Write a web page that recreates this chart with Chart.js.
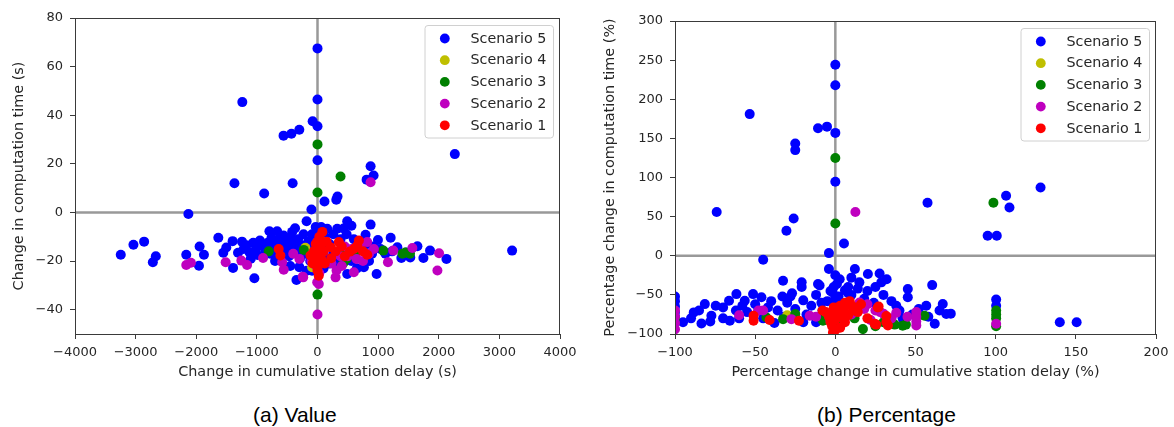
<!DOCTYPE html>
<html>
<head>
<meta charset="utf-8">
<script src="https://cdn.jsdelivr.net/npm/chart.js@4.4.1/dist/chart.umd.min.js"></script>
<style>
  html, body { margin: 0; padding: 0; background: #fff; }
  body { width: 1174px; height: 427px; position: relative; overflow: hidden; }
  .panel { position: absolute; top: 0; width: 587px; height: 395px; }
  .caption { position: absolute; top: 404px; font: 21px "Liberation Sans", Arial, sans-serif;
             line-height: 21px; color: #000; white-space: nowrap; }
</style>
</head>
<body>
<div class="panel" style="left:0"><canvas id="cv-value" width="587" height="395"></canvas></div>
<div class="panel" style="left:587px"><canvas id="cv-pct" width="587" height="395"></canvas></div>
<div class="caption" style="left:253px">(a) Value</div>
<div class="caption" style="left:817px">(b) Percentage</div>

<script>
// ---- Series labels and colours ----
const scenarioLabels = ['Scenario 1', 'Scenario 2', 'Scenario 3', 'Scenario 4', 'Scenario 5'];
const scenarioColors = ['#ff0000', '#bf00bf', '#008000', '#bfbf00', '#0000ff'];

// ---- (a) Value: [change in cumulative station delay (s), change in computation time (s)] ----
const valueS5 = [
  [0,67.5],[0,46.5],[-1240,45.4],[-80,37.5],[0,35.5],[-300,34],[-430,32.4],[-560,31.6],[0,21.5],
  [876,19],[925,15.2],[810,13.5],[2265,24],[-1370,12],[-880,7.8],[-410,12],[115,4.5],[310,5.2],
  [330,6.6],[-2130,-0.6],[-100,1.2],[3210,-15.7],[-180,-3.6],[490,-3.6],[876,-5],
  [-3245,-17.4],[-3036,-13.3],[-2860,-12],[-2667,-18],[-2716,-20.5],[-2165,-17.4],[-1945,-14],
  [-1873,-17.4],[-1955,-21.9],[-1636,-10.4],[-1554,-16.6],[-1504,-14.4],[-1400,-11.8],[-1311,-16.6],
  [-1393,-22.8],[-1245,-12],[-1218,-15],[-1170,-13.5],[-1120,-16.5],[-1060,-12.5],[-1010,-14.5],
  [-990,-17.5],[-950,-11.5],[-900,-14],[-860,-16.5],[-820,-12.5],[-793,-7.7],[-666,-7.7],[-760,-10.5],
  [-720,-13.5],[-690,-17],[-640,-11],[-600,-13.5],[-560,-9.5],[-530,-15],[-500,-12],[-470,-18],
  [-440,-10.5],[-418,-8],[-400,-14],[-370,-6.5],[-350,-16.5],[-320,-11],[-290,-19],[-260,-13.5],
  [-230,-9],[-200,-17],[-150,-12],[-120,-20],[-90,-9],[-60,-15],[-30,-6],[-1041,-27.1],[-347,-27.8],
  [-700,-20],[-620,-19],[-450,-22],[-300,-22.5],[-180,-24],[-90,-24],[-780,-17],[-1100,-19],
  [0,-8],[0,-12],[20,-16],[40,-21],[60,-6],[160,-6.7],[325,-6.7],[430,-6.6],[560,-5.5],[793,-9.2],
  [997,-11.3],[1207,-10.4],[1317,-14.3],[1648,-13.9],[1856,-15.7],[2127,-19.1],[1747,-18.7],
  [1383,-18.7],[975,-25.3],[490,-25.3],[765,-22.5],[120,-10],[200,-13],[260,-9],[380,-11],[480,-9],
  [600,-11],[700,-12.5],[820,-13],[900,-17],[1040,-15],[1120,-17],[1230,-16],[1460,-16.5],
  [1530,-18.5],[150,-19],[260,-17],[330,-21],[420,-18],[560,-20],[650,-23],[850,-20],[920,-14],
  [100,-23],[80,-14],[200,-21]
];
const valueS4 = [[-88,-22.5],[-200,-14.5],[40,-11],[460,-18]];
const valueS3 = [
  [0,28],[380,14.8],[0,8.2],[-805,-16],[-226,-15.4],[0,-33.8],[1086,-15.7],[1400,-17],[1526,-17],
  [1450,-16.5],[425,-20.9],[380,-17.7],[0,-20],[450,-16],[480,-19],[100,-14],[-50,-16],[620,-17]
];
const valueS2 = [
  [876,12.4],[-2165,-21.6],[-2088,-20.7],[-1515,-20.5],[-1256,-19.8],[-1162,-21.6],[-898,-18.7],
  [-583,-20.5],[-557,-23.6],[-298,-19.1],[-243,-26.4],[-5,-28.7],[0,-42],[2005,-16.8],[1978,-23.9],
  [1565,-14.6],[1250,-15.7],[1162,-20.5],[930,-15],[820,-12.2],[645,-19.1],[600,-24.6],[298,-26.7],
  [314,-23.9],[-236,-26.7],[22,-29.4],[-50,-18],[-20,-22],[100,-16],[450,-14],[500,-18],[700,-14],
  [750,-20],[380,-18],[230,-21],[30,-25],[-100,-20],[-400,-17],[850,-17],[560,-15],[400,-22]
];
const valueS1 = [
  [-640,-15],[-612,-17.7],[-116,-17.7],[656,-13.6],[820,-17.4],[534,-16.1],[352,-12.2],[215,-14.3],
  [226,-18.8],[683,-11.5],[0,-12],[0,-15],[0,-18],[0,-21],[0,-24],[30,-10],[50,-14],[-30,-13],
  [-60,-16],[-40,-20],[60,-19],[100,-16],[120,-21],[150,-12],[300,-16],[400,-14],[450,-18],
  [600,-15],[750,-16],[20,-26],[80,-8],[-80,-21],[10,-22],[40,-17]
];

// ---- (b) Percentage: [change in cumulative station delay (%), change in computation time (%)] ----
const pctS5 = [
  [0,244],[0,218],[-53.4,181],[-10.8,163],[-5.2,165],[0,157],[-25,143.5],[-25,135],[0,94.6],
  [-74,56],[-26,47.7],[-30.5,32],[5.4,15.7],[-4,3.4],[-45,-5],[-4,-17],[12.2,-17],[128,87.3],
  [106.5,76.7],[108.6,61.7],[57.5,67.7],[95,25.6],[100.7,25.6],[100.3,-56],[100.3,-64],[140,-85],
  [150.5,-85],
  [-100,-52],[-100,-58],[-100,-65],[-100,-72],[-100,-78],[-95,-85],[-88.3,-72.4],[-83.5,-86.5],
  [-81.4,-61.8],[-77.3,-76.7],[-74.6,-64],[-70,-66],[-66.3,-57.5],[-61.7,-49],[-56.5,-57.5],
  [-51.3,-49],[-46.1,-53],[-65.8,-83],[-60,-80],[-55,-72],[-50,-62],[-40,-58],[-36,-70],[-30,-60],
  [-28,-52],[-25,-68],[-20,-57],[-18,-75],[-15,-64],[-12,-50],[-8,-70],[-5,-58],[-3,-45],[-1,-40],
  [1,-36],[2,-52],[4,-62],[6,-44],[8,-40],[10,-50],[-70,-80],[-78,-84],[-90,-80],[-85,-70],
  [-62,-70],[-45,-80],[-38,-86],[-32,-78],[-12,-85],[-6,-80],[-58,-64],[-48,-70],[-42,-66],
  [-33,-52],[-32.6,-32],[-21,-34],[-21,-40],[-10.8,-36],[-8.7,-60],[-27,-48],[-20,-85],[-9.8,-38],
  [-1.7,-47],[2.7,-30],[20.3,-23.4],[27.6,-22.6],[15,-34],[28.7,-34],[45.2,-42.6],[45.2,-53],
  [60.4,-37.5],[38,-64],[56.7,-64],[67,-61.7],[69.2,-74.5],[62,-87],[20,-45],[25,-40],[30,-50],
  [35,-58],[40,-70],[48,-75],[52,-68],[32,-30],[10,-28],[18,-55],[24,-60],[42,-80],[58,-78],
  [65,-70],[72,-74],[8,-48],[14,-42],[0,-25],[0,-55],[0,-65]
];
const pctS4 = [[-5,-80],[3,-90],[-30,-76]];
const pctS3 = [
  [0,125],[0,41.3],[98.6,67.7],[-7.7,-74.5],[17.2,-93.7],[42,-89.5],[37,-88],[55.6,-76.7],
  [100.3,-70],[100.3,-75],[100.3,-80],[100.3,-90],[-43,-79],[-32.6,-81],[-25,-74.5],[-7.7,-83],
  [-100,-80],[12,-80],[25,-90],[30,-85],[44,-88],[3,-88]
];
const pctS2 = [
  [12.5,56],[15.1,-59.7],[20,-62],[25,-70],[28,-72],[30,-74],[38,-73],[50.5,-72],[50.5,-78],
  [50.5,-84],[50.5,-89],[5.8,-81],[100.3,-87],[-45,-70],[-48,-70],[-27.4,-81],[-16,-76.7],
  [-12,-78],[-100,-70],[-100,-78],[-100,-86],[-100,-94],[10,-75],[18,-68],[22,-82],[35,-80],
  [45,-78],[-3,-83],[-60,-76]
];
const pctS1 = [
  [7.9,-61.7],[10,-64],[5,-68],[2,-72],[-2,-75],[0,-82],[-1.5,-98],[4,-78],[12,-66],[26.5,-66],
  [27,-65],[24.5,-87],[25.5,-88],[31.8,-77],[31.8,-85],[32.8,-89],[-51,-76.7],[-51,-83],[-41,-82],
  [-22.7,-83],[-4,-78],[-2,-90],[0,-95],[8,-76],[14,-72],[20,-80],[6,-85],[-8,-70],[-3,-85],[3,-92],
  [9,-58],[6,-60],[11,-70],[-1,-66],[3,-64],[-6,-72],[16,-62]
];

// ---- Tick values ----
const valueXTicks = [-4000, -3000, -2000, -1000, 0, 1000, 2000, 3000, 4000];
const valueYTicks = [-40, -20, 0, 20, 40, 60, 80];
const pctXTicks = [-100, -50, 0, 50, 100, 150, 200];
const pctYTicks = [-100, -50, 0, 50, 100, 150, 200, 250, 300];

// ---- Styling ----
const TEXT = '#262626';
const FRAME = '#3a3a3a';
const ZERO = 'rgba(128,128,128,0.8)';
const FAMILY = '"DejaVu Sans", Verdana, sans-serif';

const fmt = v => String(v).replace('-', '\u2212');

// Zero reference lines under the points, frame and inset legend on top.
const framePlugin = {
  id: 'frameAndLegend',
  beforeDatasetsDraw(chart) {
    const { ctx, chartArea: a, scales: { x, y } } = chart;
    ctx.save();
    ctx.beginPath();
    ctx.rect(a.left, a.top, a.right - a.left, a.bottom - a.top);
    ctx.clip();
    ctx.strokeStyle = ZERO;
    ctx.lineWidth = 2.5;
    const x0 = x.getPixelForValue(0), y0 = y.getPixelForValue(0);
    ctx.beginPath();
    ctx.moveTo(a.left, y0); ctx.lineTo(a.right, y0);
    ctx.moveTo(x0, a.top); ctx.lineTo(x0, a.bottom);
    ctx.stroke();
    ctx.restore();
  },
  afterDatasetsDraw(chart) {
    const { ctx, chartArea: a } = chart;
    ctx.save();
    ctx.strokeStyle = FRAME;
    ctx.lineWidth = 1;
    ctx.strokeRect(Math.round(a.left) + 0.5, Math.round(a.top) + 0.5,
                   Math.round(a.right - a.left) - 1, Math.round(a.bottom - a.top));

    // legend box
    const w = 128.5, h = 112.5;
    const bx = a.right - 7 - w, by = a.top + 7;
    ctx.fillStyle = 'rgba(255,255,255,0.8)';
    ctx.strokeStyle = '#d0d0d0';
    ctx.lineWidth = 1;
    ctx.beginPath();
    ctx.roundRect(bx + 0.5, by + 0.5, w, h, 3);
    ctx.fill();
    ctx.stroke();
    ctx.font = '14.3px ' + FAMILY;
    ctx.textBaseline = 'middle';
    ctx.textAlign = 'left';
    const sets = chart.data.datasets.slice().reverse();
    sets.forEach((ds, i) => {
      const cy = by + 13.5 + i * 21.7;
      ctx.fillStyle = ds.backgroundColor;
      ctx.beginPath();
      ctx.arc(bx + 20.3, cy, 4.9, 0, Math.PI * 2);
      ctx.fill();
      ctx.fillStyle = TEXT;
      ctx.fillText(ds.label, bx + 46, cy + 0.5);
    });
    ctx.restore();
  }
};

function makeChart(id, series, cfg) {
  const datasets = series.map((pts, i) => ({
    label: scenarioLabels[i],
    data: pts.map(([x, y]) => ({ x, y })),
    backgroundColor: scenarioColors[i],
    borderWidth: 0,
    pointRadius: 5,
    pointHoverRadius: 5,
    clip: 0
  }));
  return new Chart(document.getElementById(id), {
    type: 'scatter',
    data: { datasets },
    plugins: [framePlugin],
    options: {
      responsive: false,
      animation: false,
      events: [],
      layout: { padding: { top: cfg.top, right: cfg.right, left: 0, bottom: 0 } },
      plugins: { legend: { display: false }, tooltip: { enabled: false } },
      scales: {
        x: {
          type: 'linear', min: cfg.xMin, max: cfg.xMax,
          afterBuildTicks: s => { s.ticks = cfg.xTicks.map(v => ({ value: v })); },
          afterFit: s => { s.height = 61; s.paddingLeft = 0; s.paddingRight = 0; },
          grid: { display: true, drawOnChartArea: false, drawTicks: true, tickLength: 5,
                  tickColor: FRAME, tickWidth: 1 },
          border: { display: false },
          ticks: { color: TEXT, font: { family: FAMILY, size: 13 }, padding: 6,
                   maxRotation: 0, autoSkip: false, callback: v => fmt(v) },
          title: { display: true, text: cfg.xTitle, color: TEXT,
                   font: { family: FAMILY, size: 14.4 }, padding: { top: 0, bottom: 14.4 } }
        },
        y: {
          type: 'linear', min: cfg.yMin, max: cfg.yMax,
          afterBuildTicks: s => { s.ticks = cfg.yTicks.map(v => ({ value: v })); },
          afterFit: s => { s.width = cfg.yWidth; s.paddingTop = 0; s.paddingBottom = 0; },
          grid: { display: true, drawOnChartArea: false, drawTicks: true, tickLength: 5,
                  tickColor: FRAME, tickWidth: 1 },
          border: { display: false },
          ticks: { color: TEXT, font: { family: FAMILY, size: 13 }, padding: 7,
                   autoSkip: false, callback: v => fmt(v) },
          title: { display: true, text: cfg.yTitle, color: TEXT,
                   font: { family: FAMILY, size: 14.4 }, padding: { top: cfg.yTitlePad, bottom: 0 } }
        }
      }
    }
  });
}

makeChart('cv-value', [valueS1, valueS2, valueS3, valueS4, valueS5], {
  top: 18, right: 27, yWidth: 75, yTitlePad: 10.4,
  xMin: -4000, xMax: 4000, yMin: -50, yMax: 80,
  xTicks: valueXTicks, yTicks: valueYTicks,
  xTitle: 'Change in cumulative station delay (s)',
  yTitle: 'Change in computation time (s)'
});

makeChart('cv-pct', [pctS1, pctS2, pctS3, pctS4, pctS5], {
  top: 21, right: 18, yWidth: 88, yTitlePad: 14.4,
  xMin: -100, xMax: 200, yMin: -100, yMax: 300,
  xTicks: pctXTicks, yTicks: pctYTicks,
  xTitle: 'Percentage change in cumulative station delay (%)',
  yTitle: 'Percentage change in computation time (%)'
});
</script>
</body>
</html>
